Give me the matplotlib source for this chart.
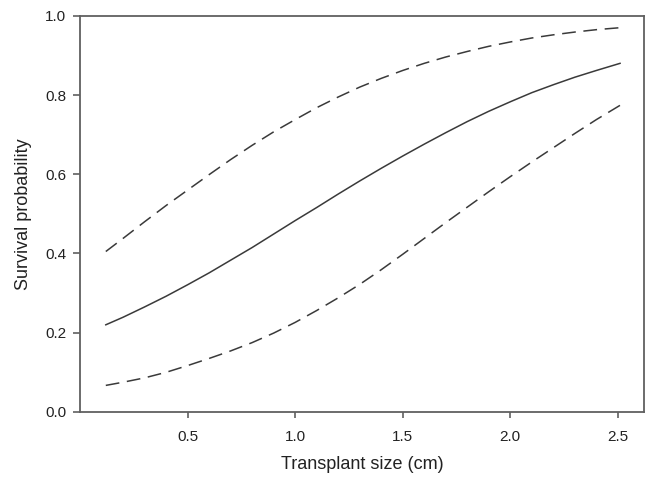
import numpy as np
import matplotlib
matplotlib.use("Agg")
import matplotlib.pyplot as plt

plt.rcParams['font.family'] = ['Liberation Sans', 'DejaVu Sans']

# transplant size (cm)
size = [0.12, 0.2, 0.3, 0.4, 0.5, 0.6, 0.7, 0.8, 0.9, 1.0, 1.1, 1.2, 1.3,
        1.4, 1.5, 1.6, 1.7, 1.8, 1.9, 2.0, 2.1, 2.2, 2.3, 2.4, 2.51]

# fitted survival probability
fit = [0.220, 0.239, 0.265, 0.292, 0.321, 0.351, 0.383, 0.415, 0.449, 0.483,
       0.516, 0.550, 0.583, 0.615, 0.646, 0.676, 0.705, 0.733, 0.759, 0.783,
       0.806, 0.826, 0.845, 0.862, 0.880]

# confidence band
upper = [0.405, 0.438, 0.480, 0.521, 0.560, 0.599, 0.637, 0.673, 0.707, 0.738,
         0.768, 0.795, 0.820, 0.842, 0.862, 0.880, 0.896, 0.910, 0.923, 0.934,
         0.944, 0.952, 0.959, 0.965, 0.970]
lower = [0.067, 0.075, 0.086, 0.100, 0.117, 0.135, 0.154, 0.175, 0.199, 0.226,
         0.256, 0.288, 0.322, 0.359, 0.398, 0.438, 0.478, 0.517, 0.556, 0.594,
         0.631, 0.667, 0.703, 0.738, 0.774]

fig = plt.figure(figsize=(6.45, 4.79), dpi=100)
ax = fig.add_axes([0.124, 0.140, 0.874, 0.827])

line_col = '#3a3a3a'
ax.plot(size, fit, color=line_col, lw=1.1)
ax.plot(size, upper, color=line_col, lw=1.1, dashes=(9, 5))
ax.plot(size, lower, color=line_col, lw=1.1, dashes=(9, 5))

ax.set_xlim(0.0, 2.62)
ax.set_ylim(0.0, 1.0)
ax.set_xticks([0.5, 1.0, 1.5, 2.0, 2.5])
ax.set_yticks([0.0, 0.2, 0.4, 0.6, 0.8, 1.0])
ax.set_xticklabels(['0.5', '1.0', '1.5', '2.0', '2.5'])
ax.set_yticklabels(['0.0', '0.2', '0.4', '0.6', '0.8', '1.0'])

for sp in ax.spines.values():
    sp.set_color('#606060')
    sp.set_linewidth(1.3)
ax.tick_params(axis='both', direction='out', colors='#606060',
               labelcolor='#222222', labelsize=11, width=1.2)
ax.tick_params(axis='y', length=5, pad=5)
ax.tick_params(axis='x', length=4, pad=9)

ax.set_xlabel('Transplant size (cm)', fontsize=13, color='#222222', labelpad=9)
ax.set_ylabel('Survival probability', fontsize=13, color='#222222', labelpad=9)

fig.savefig('out.png', dpi=100)
